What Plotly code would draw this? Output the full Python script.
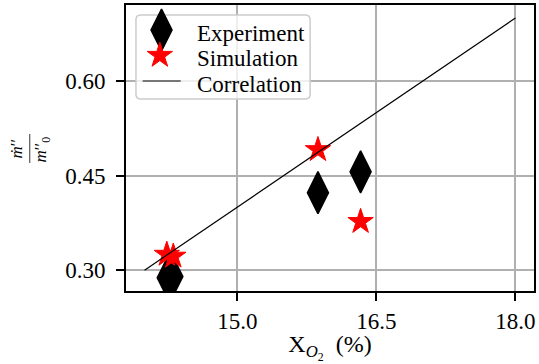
import numpy as np
import plotly.graph_objects as go

# ---- data -------------------------------------------------------------
exp_x = [14.25, 14.30, 15.87, 16.33]
exp_y = [0.288, 0.290, 0.423, 0.456]

sim_x = [14.24, 14.31, 15.87, 16.33]
sim_y = [0.325, 0.322, 0.491, 0.377]

corr_x = [14.0, 18.0]
corr_y = [0.30, 0.70]

x_ticks = [15.0, 16.5, 18.0]
x_ticklabels = ["15.0", "16.5", "18.0"]
y_ticks = [0.30, 0.45, 0.60]
y_ticklabels = ["0.30", "0.45", "0.60"]

legend_labels = ["Experiment", "Simulation", "Correlation"]

# ---- geometry / style ---------------------------------------------------
W, H = 539, 364
M_L, M_R, M_T, M_B = 126, 3, 5, 73
PW, PH = W - M_L - M_R, H - M_T - M_B

FONT = "Liberation Serif"
GRID = "#b0b0b0"


def paper_x(px):
    return (px - M_L) / PW


def paper_y(py):
    return (H - M_B - py) / PH


fig = go.Figure()

fig.add_trace(go.Scatter(
    x=exp_x, y=exp_y, mode="markers", name=legend_labels[0],
    marker=dict(symbol="diamond-tall", size=30, color="black",
                line=dict(color="black", width=1.5)),
    showlegend=False))

fig.add_trace(go.Scatter(
    x=sim_x, y=sim_y, mode="markers", name=legend_labels[1],
    marker=dict(symbol="star", size=19, color="red",
                line=dict(color="red", width=1)),
    showlegend=False))

fig.add_trace(go.Scatter(
    x=corr_x, y=corr_y, mode="lines", name=legend_labels[2],
    line=dict(color="black", width=1.2),
    showlegend=False))

# ---- legend drawn on a pixel-unit overlay axis --------------------------
def rounded_box(x0, y0, x1, y1, r, n=8):
    xs, ys = [], []
    corners = [(x1 - r, y0 + r, -90, 0), (x1 - r, y1 - r, 0, 90),
               (x0 + r, y1 - r, 90, 180), (x0 + r, y0 + r, 180, 270)]
    for cx, cy, a0, a1 in corners:
        for a in np.linspace(np.radians(a0), np.radians(a1), n):
            xs.append(cx + r * np.cos(a))
            ys.append(cy + r * np.sin(a))
    xs.append(xs[0])
    ys.append(ys[0])
    return xs, ys


bx, by = rounded_box(10, 10, 185, 94, 4)
fig.add_trace(go.Scatter(
    x=bx, y=by, xaxis="x2", yaxis="y2", mode="lines", fill="toself",
    fillcolor="rgba(255,255,255,0.8)", line=dict(color="#cccccc", width=1.5),
    hoverinfo="skip", showlegend=False))

rows = [25, 50.5, 76]
fig.add_trace(go.Scatter(
    x=[35.7], y=[rows[0]], xaxis="x2", yaxis="y2", mode="markers",
    marker=dict(symbol="diamond-tall", size=30, color="black",
                line=dict(color="black", width=1.5)),
    cliponaxis=False, hoverinfo="skip", showlegend=False))
fig.add_trace(go.Scatter(
    x=[34], y=[rows[1]], xaxis="x2", yaxis="y2", mode="markers",
    marker=dict(symbol="star", size=19, color="red",
                line=dict(color="red", width=1)),
    cliponaxis=False, hoverinfo="skip", showlegend=False))
fig.add_trace(go.Scatter(
    x=[16.7, 55], y=[rows[2], rows[2]], xaxis="x2", yaxis="y2", mode="lines",
    line=dict(color="black", width=1.2),
    hoverinfo="skip", showlegend=False))

annotations = []
for label, ry in zip(legend_labels, rows):
    annotations.append(dict(
        x=69, y=ry + 3, xref="x2", yref="y2", text=label, showarrow=False,
        xanchor="left", yanchor="middle",
        font=dict(family=FONT, size=23, color="black")))

# ---- y-axis label: rotated fraction ---------------------------------------
annotations.append(dict(
    x=paper_x(15), y=paper_y(149), xref="paper", yref="paper",
    text="<i>ṁ</i>′′", textangle=-90, showarrow=False,
    xanchor="center", yanchor="middle",
    font=dict(family=FONT, size=17, color="black")))
annotations.append(dict(
    x=paper_x(42), y=paper_y(149), xref="paper", yref="paper",
    text="<i>m</i>′′<sub>0</sub>", textangle=-90, showarrow=False,
    xanchor="center", yanchor="middle",
    font=dict(family=FONT, size=17, color="black")))

shapes = [dict(type="line", xref="paper", yref="paper",
               x0=paper_x(29.3), x1=paper_x(29.3),
               y0=paper_y(134), y1=paper_y(163),
               line=dict(color="black", width=0.8))]

axis_common = dict(
    showgrid=True, gridcolor=GRID, gridwidth=1.5,
    showline=True, linecolor="black", linewidth=2, mirror=True,
    ticks="outside", ticklen=8, tickwidth=1.5, tickcolor="black",
    zeroline=False,
    tickfont=dict(family=FONT, size=23, color="black"),
)

fig.update_layout(
    width=W, height=H,
    margin=dict(l=M_L, r=M_R, t=M_T, b=M_B),
    paper_bgcolor="white", plot_bgcolor="white",
    showlegend=False,
    xaxis=dict(range=[13.8, 18.2], tickvals=x_ticks, ticktext=x_ticklabels,
               ticklabelstandoff=0,
               title=dict(text="X<sub><i>O</i><sub>2</sub></sub>&nbsp;&nbsp;(%)",
                          font=dict(family=FONT, size=24, color="black"),
                          standoff=4),
               **axis_common),
    yaxis=dict(range=[0.267, 0.7206], tickvals=y_ticks, ticktext=y_ticklabels,
               ticklabelstandoff=6, **axis_common),
    xaxis2=dict(overlaying="x", range=[0, PW], visible=False, fixedrange=True),
    yaxis2=dict(overlaying="y", range=[PH, 0], visible=False, fixedrange=True),
    annotations=annotations,
    shapes=shapes,
)

fig.write_html("out.html")
